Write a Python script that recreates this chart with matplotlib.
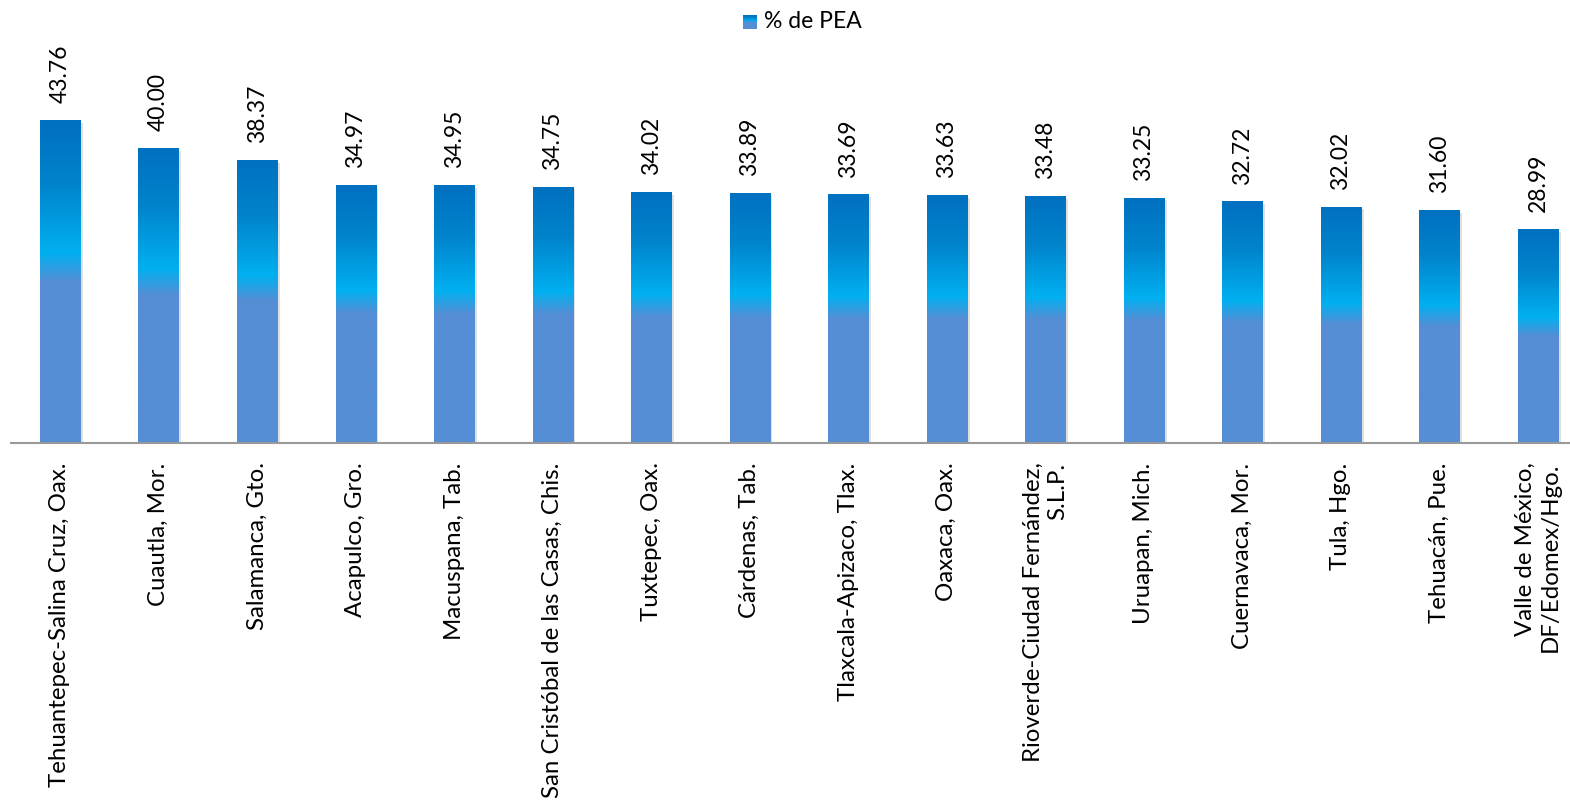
import numpy as np
import matplotlib
matplotlib.use("Agg")
import matplotlib.pyplot as plt
import matplotlib.patheffects as pe
from matplotlib.colors import LinearSegmentedColormap

categories = [
    "Tehuantepec-Salina Cruz, Oax.",
    "Cuautla, Mor.",
    "Salamanca, Gto.",
    "Acapulco, Gro.",
    "Macuspana, Tab.",
    "San Cristóbal de las Casas, Chis.",
    "Tuxtepec, Oax.",
    "Cárdenas, Tab.",
    "Tlaxcala-Apizaco, Tlax.",
    "Oaxaca, Oax.",
    "Rioverde-Ciudad Fernández,\nS.L.P.",
    "Uruapan, Mich.",
    "Cuernavaca, Mor.",
    "Tula, Hgo.",
    "Tehuacán, Pue.",
    "Valle de México,\nDF/Edomex/Hgo.",
]
values = [43.76, 40.00, 38.37, 34.97, 34.95, 34.75, 34.02, 33.89, 33.69,
          33.63, 33.48, 33.25, 32.72, 32.02, 31.60, 28.99]
series_name = "% de PEA"

FONT = ["Lato", "DejaVu Sans"]
plt.rcParams['font.family'] = FONT

W, H = 1570, 801
fig = plt.figure(figsize=(W / 100, H / 100), dpi=100)

ax_left_px = 10.7
cat_px = 98.53
ax_bottom_px = 443
ax = fig.add_axes([ax_left_px / W, (H - ax_bottom_px) / H,
                   cat_px * len(categories) / W, ax_bottom_px / H])

cmap = LinearSegmentedColormap.from_list(
    "g", [(0.0, "#0070C0"), (0.2, "#0084CC"), (0.41, "#00B0F0"),
          (0.5, "#558ED5"), (1.0, "#558ED5")])
grad = np.linspace(0, 1, 256).reshape(-1, 1)

x = np.arange(len(categories))
bars = ax.bar(x, values, width=0.406, color="#558ED5", zorder=2)
for rect in bars:
    rect.set_path_effects([pe.SimplePatchShadow(offset=(2, -2),
                                                shadow_rgbFace="#999999", alpha=0.3),
                           pe.Normal()])
    x0, w, h = rect.get_x(), rect.get_width(), rect.get_height()
    im = ax.imshow(grad, cmap=cmap, extent=[x0, x0 + w, 0, h], aspect="auto",
                   origin="upper", zorder=3, interpolation="bilinear")
    im.set_clip_path(rect)

for xi, v in zip(x, values):
    ax.annotate(f"{v:.2f}", (xi, v), xytext=(0, 12), textcoords="offset points",
                rotation=90, ha="center", va="bottom", fontsize=16.5, color="black")

ax.set_xlim(-0.5, len(categories) - 0.5)
ax.set_ylim(0, 443 / (323 / 43.76))
ax.set_xticks(x)
ax.set_xticklabels(categories, rotation=90, ha="center", va="top",
                   multialignment="right", fontsize=17.3)
ax.tick_params(axis="x", length=0, pad=14)
ax.set_yticks([])
for s in ["top", "right", "left"]:
    ax.spines[s].set_visible(False)
ax.spines["bottom"].set_color("#999999")
ax.spines["bottom"].set_linewidth(1.5)
ax.spines["bottom"].set_zorder(5)

# legend
lax = fig.add_axes([743 / W, (H - 29) / H, 14 / W, 14 / H])
lax.imshow(grad, cmap=cmap, aspect="auto", origin="upper", interpolation="bilinear")
lax.set_axis_off()
fig.text(764 / W, (H - 21) / H, series_name, ha="left", va="center", fontsize=16.5)

fig.savefig("out.png", dpi=100)
